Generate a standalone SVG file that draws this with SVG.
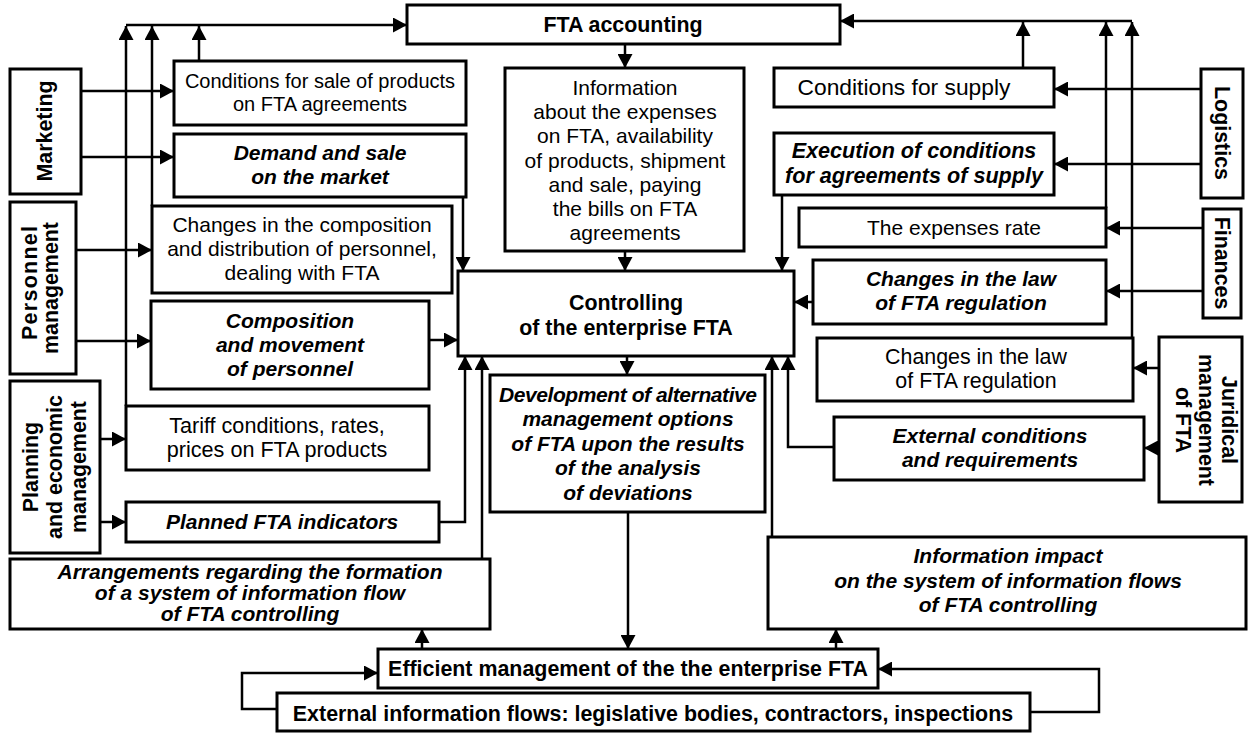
<svg xmlns="http://www.w3.org/2000/svg" width="1248" height="733" viewBox="0 0 1248 733">
<style>
.box{fill:#fff;stroke:#000;stroke-width:3}
.ln{fill:none;stroke:#000;stroke-width:2.5;marker-end:url(#ah)}
text{font-family:"Liberation Sans",Arial,sans-serif;font-size:20px;text-anchor:middle;fill:#000}
.r21{font-size:21px}
.b{font-weight:bold;font-size:21.4px}
.bi{font-weight:bold;font-style:italic;font-size:21px}
</style>
<defs>
<marker id="ah" markerUnits="userSpaceOnUse" viewBox="0 0 14 15" markerWidth="14" markerHeight="15" refX="14" refY="7.5" orient="auto">
<path d="M0,0 L14,7.5 L0,15 z" fill="#000"/>
</marker>
</defs>
<rect width="1248" height="733" fill="#fff"/>

<g id="fta-accounting"><rect class="box" x="407" y="5" width="433" height="39"/><text class="b" x="623" y="32">FTA accounting</text></g>

<g id="marketing"><rect class="box" x="10" y="69" width="71" height="125"/><text class="b" transform="translate(45,131) rotate(-90)" y="7">Marketing</text></g>
<g id="personnel"><rect class="box" x="10" y="202" width="66" height="172"/><text class="b" transform="translate(43,283) rotate(-90)" x="0" y="-6" textLength="114">Personnel</text><text class="b" transform="translate(43,288) rotate(-90)" x="0" y="15">management</text></g>
<g id="planning"><rect class="box" x="10" y="381" width="90" height="172"/><text class="b" transform="translate(55,467) rotate(-90)"><tspan x="0" y="-17">Planning</tspan><tspan x="0" y="7">and economic</tspan><tspan x="0" y="31">management</tspan></text></g>

<g id="cond-sale"><rect class="box" x="174" y="61" width="292" height="64"/><text x="320" y="88">Conditions for sale of products</text><text x="320" y="111">on FTA agreements</text></g>
<g id="demand"><rect class="box" x="174" y="134" width="292" height="63"/><text class="bi" x="320" y="160">Demand and sale</text><text class="bi" x="320" y="184">on the market</text></g>
<g id="changes-comp"><rect class="box" x="152" y="206" width="300" height="87"/><text class="r21" x="302" y="232">Changes in the composition</text><text class="r21" x="302" y="256">and distribution of personnel,</text><text class="r21" x="302" y="280">dealing with FTA</text></g>
<g id="composition"><rect class="box" x="151" y="301" width="278" height="88"/><text class="bi" x="290" y="328">Composition</text><text class="bi" x="290" y="352">and movement</text><text class="bi" x="290" y="376">of personnel</text></g>
<g id="tariff"><rect class="box" x="126" y="406" width="303" height="64"/><text x="277" y="433" style="font-size:21.6px">Tariff conditions, rates,</text><text x="277" y="457" style="font-size:21.6px">prices on FTA products</text></g>
<g id="planned"><rect class="box" x="126" y="502" width="313" height="40"/><text class="bi" x="282" y="529">Planned FTA indicators</text></g>
<g id="arrangements"><rect class="box" x="10" y="559" width="480" height="70"/><text class="bi" x="250" y="579">Arrangements regarding the formation</text><text class="bi" x="250" y="600">of a system of information flow</text><text class="bi" x="250" y="621">of FTA controlling</text></g>

<g id="information"><rect class="box" x="505" y="68" width="239" height="183"/>
<text class="r21" x="625" y="95">Information</text><text class="r21" x="625" y="119">about the expenses</text><text class="r21" x="625" y="143">on FTA, availability</text><text class="r21" x="625" y="168">of products, shipment</text><text class="r21" x="625" y="192">and sale, paying</text><text class="r21" x="625" y="216">the bills on FTA</text><text class="r21" x="625" y="240">agreements</text></g>
<g id="controlling"><rect class="box" x="458" y="271" width="336" height="85"/><text class="b" x="626" y="310">Controlling</text><text class="b" x="626" y="335">of the enterprise FTA</text></g>
<g id="development"><rect class="box" x="490" y="375" width="275" height="137"/><text class="bi" x="628" y="402" textLength="258">Development of alternative</text><text class="bi" x="628" y="426">management options</text><text class="bi" x="628" y="451">of FTA upon the results</text><text class="bi" x="628" y="475">of the analysis</text><text class="bi" x="628" y="500">of deviations</text></g>
<g id="efficient"><rect class="box" x="378" y="649" width="500" height="39"/><text class="b" x="628" y="676">Efficient management of the the enterprise FTA</text></g>
<g id="external"><rect class="box" x="277" y="693" width="753" height="38"/><text class="b" x="653" y="721">External information flows: legislative bodies, contractors, inspections</text></g>
<g id="info-impact"><rect class="box" x="768" y="537" width="478" height="92"/><text class="bi" x="1008" y="563">Information impact</text><text class="bi" x="1008" y="588">on the system of information flows</text><text class="bi" x="1008" y="612">of FTA controlling</text></g>

<g id="cond-supply"><rect class="box" x="774" y="68" width="280" height="39"/><text x="904" y="95" style="font-size:22.8px">Conditions for supply</text></g>
<g id="execution"><rect class="box" x="774" y="133" width="280" height="62"/><text class="bi" x="914" y="158" style="font-size:21.6px">Execution of conditions</text><text class="bi" x="914" y="183" style="font-size:21.6px">for agreements of supply</text></g>
<g id="expenses"><rect class="box" x="799" y="208" width="307" height="39"/><text class="r21" x="954" y="235">The expenses rate</text></g>
<g id="changes-law-b"><rect class="box" x="813" y="260" width="293" height="64"/><text class="bi" x="961" y="286">Changes in the law</text><text class="bi" x="961" y="310">of FTA regulation</text></g>
<g id="changes-law"><rect class="box" x="817" y="338" width="316" height="63"/><text x="976" y="364" style="font-size:21.4px">Changes in the law</text><text x="976" y="388" style="font-size:21.4px">of FTA regulation</text></g>
<g id="ext-cond"><rect class="box" x="834" y="417" width="310" height="63"/><text class="bi" x="990" y="443">External conditions</text><text class="bi" x="990" y="467">and requirements</text></g>

<g id="logistics"><rect class="box" x="1201" y="69" width="42" height="129"/><text class="b" transform="translate(1222,133) rotate(90)" y="7">Logistics</text></g>
<g id="finances"><rect class="box" x="1203" y="209" width="38" height="109"/><text class="b" transform="translate(1222,263) rotate(90)" y="7">Finances</text></g>
<g id="juridical"><rect class="box" x="1159" y="337" width="83" height="165"/><text class="b" transform="translate(1200,420) rotate(90)"><tspan x="0" y="-22">Juridical</tspan><tspan x="0" y="1">management</tspan><tspan x="0" y="24">of FTA</tspan></text></g>

<g id="connectors">
<path class="ln" d="M126,25 H407"/>
<path class="ln" d="M126,406 V26"/>
<path class="ln" d="M152,206 V26"/>
<path class="ln" d="M199,61 V26"/>
<path class="ln" d="M1132,21 H840"/>
<path class="ln" d="M1023,68 V22"/>
<path class="ln" d="M1106,208 V22"/>
<path class="ln" d="M1132,338 V22"/>
<path class="ln" d="M81,91 H174"/>
<path class="ln" d="M81,157 H174"/>
<path class="ln" d="M76,250 H152"/>
<path class="ln" d="M76,341 H151"/>
<path class="ln" d="M100,439 H126"/>
<path class="ln" d="M100,522 H126"/>
<path class="ln" d="M463,197 V271"/>
<path class="ln" d="M429,340 H458"/>
<path class="ln" d="M439,522 H465 V356"/>
<path class="ln" d="M482,559 V356"/>
<path class="ln" d="M625,44 V68"/>
<path class="ln" d="M625,251 V271"/>
<path class="ln" d="M627,356 V375"/>
<path class="ln" d="M628,512 V649"/>
<path class="ln" d="M422,649 V629"/>
<path class="ln" d="M836,649 V629"/>
<path class="ln" d="M277,709 H242 V673 H378"/>
<path class="ln" d="M1030,712 H1099 V669 H878"/>
<path class="ln" d="M782,195 V271"/>
<path class="ln" d="M813,302 H794"/>
<path class="ln" d="M772,537 V356"/>
<path class="ln" d="M834,447 H788 V356"/>
<path class="ln" d="M1201,89 H1054"/>
<path class="ln" d="M1201,164 H1054"/>
<path class="ln" d="M1203,228 H1106"/>
<path class="ln" d="M1203,291 H1106"/>
<path class="ln" d="M1159,368 H1133"/>
<path class="ln" d="M1159,448 H1144"/>
</g>
</svg>
